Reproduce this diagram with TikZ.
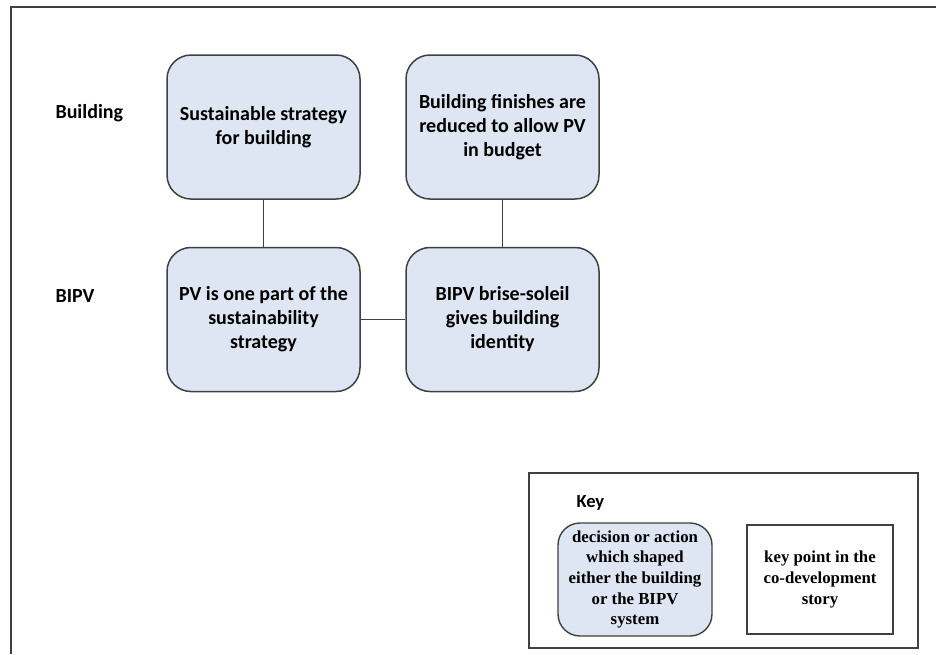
\documentclass[tikz,border=0pt]{standalone}
\usepackage{fontspec}
\setmainfont{Carlito}
\newfontfamily\keyfont{Liberation Serif}
\definecolor{boxfill}{RGB}{221,230,242}
\definecolor{edge}{RGB}{64,64,64}
\begin{document}
\begin{tikzpicture}[x=1pt,y=-1pt,
  stage/.style={draw=edge, line width=1.5pt, fill=boxfill, rounded corners=24pt,
    minimum width=193pt, minimum height=144pt, align=center,
    font=\bfseries\fontsize{20}{24}\selectfont, inner sep=0pt},
  rowlabel/.style={anchor=west, font=\bfseries\fontsize{20}{22}\selectfont},
  keytext/.style={align=center, font=\keyfont\bfseries\fontsize{16.8}{20.6}\selectfont, inner sep=0pt},
  link/.style={draw=edge, line width=1.5pt}]
\useasboundingbox (0,0) rectangle (936,654);

% page frame (top and left edges)
\draw[edge, line width=1.6pt] (936,7) -- (11,7) -- (11,654);

% row labels
\node[rowlabel] (lbuild) at (52,113) {Building};
\node[rowlabel] (lbipv) at (52,296) {BIPV};

% stages
\node[stage] (s1) at (263.5,127) {Sustainable strategy\\for building};
\node[stage] (s2) at (502.5,127) {Building finishes are\\reduced to allow PV\\in budget};
\node[stage] (s3) at (263.5,319.5) {PV is one part of the\\sustainability\\strategy};
\node[stage] (s4) at (502.5,319.5) {BIPV brise-soleil\\gives building\\identity};

% links
\draw[link] (s1) -- (s3);
\draw[link] (s2) -- (s4);
\draw[link] (s3) -- (s4);

% key
\node[draw=edge, line width=1.3pt, minimum width=389pt, minimum height=175pt, inner sep=0pt] (key) at (723.5,560.5) {};
\node[anchor=west, font=\bfseries\fontsize{18.5}{20}\selectfont] (keytitle) at (573,503) {Key};
\node[draw=edge, line width=1.4pt, fill=boxfill, rounded corners=22pt,
  minimum width=154pt, minimum height=113pt, inner sep=0pt] (keystage) at (635,579.5) {};
\node[keytext] (keystagetext) at (keystage.center) {decision or action\\which shaped\\either the building\\or the BIPV\\system};
\node[draw=edge, line width=1.3pt, minimum width=146pt, minimum height=109pt, inner sep=0pt] (keypoint) at (820,579.5) {};
\node[keytext] (keypointtext) at (keypoint.center) {key point in the\\co-development\\story};
\end{tikzpicture}
\end{document}
